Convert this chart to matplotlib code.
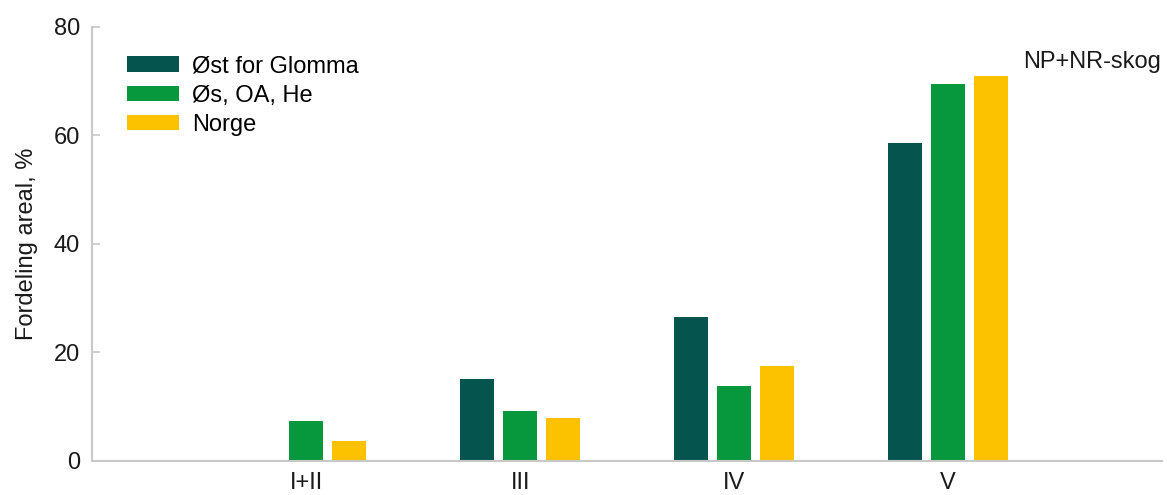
import numpy as np
import matplotlib
matplotlib.use("Agg")
from matplotlib import pyplot as plt

plt.rcParams['font.family'] = ['Liberation Sans', 'DejaVu Sans']

categories = ['I+II', 'III', 'IV', 'V']
series = ['Øst for Glomma', 'Øs, OA, He', 'Norge']
ost_glomma = [0.0, 15.1, 26.5, 58.6]
os_oa_he = [7.4, 9.3, 13.9, 69.4]
norge = [3.7, 7.9, 17.5, 70.9]
colors = ['#05554E', '#07973D', '#FCC200']

fig = plt.figure(figsize=(11.67, 4.95), dpi=100)
ax = fig.add_axes([0.0791, 0.0687, 0.9166, 0.8768])

x = np.arange(len(categories))
width = 0.159
step = 0.201
for i, (vals, name) in enumerate(zip([ost_glomma, os_oa_he, norge], series)):
    ax.bar(x + (i - 1) * step, vals, width, color=colors[i], label=name)

ax.set_xlim(-1, 4)
ax.set_ylim(0, 80)
ax.set_yticks([0, 20, 40, 60, 80])
ax.set_xticks(x)
ax.set_xticklabels(categories)

for s in ['top', 'right']:
    ax.spines[s].set_visible(False)
for s in ['left', 'bottom']:
    ax.spines[s].set_color('#c8c8c8')
    ax.spines[s].set_linewidth(1.5)

fs = 17
ax.tick_params(axis='y', direction='in', length=6, width=1.2, color='#c8c8c8',
               labelsize=fs, pad=9, labelcolor='#1a1a1a')
ax.tick_params(axis='x', length=0, labelsize=fs, pad=8, labelcolor='#1a1a1a')
ax.set_ylabel('Fordeling areal, %', fontsize=fs, labelpad=11, color='#1a1a1a')

ax.legend(loc='upper left', bbox_to_anchor=(127 / 1167, 1 - 55.5 / 495),
          bbox_transform=fig.transFigure, frameon=False, fontsize=fs,
          handlelength=2.2, handleheight=0.63, handletextpad=0.55,
          labelspacing=0.3, borderpad=0, borderaxespad=0)

fig.text(1161 / 1167, 1 - 68.3 / 495, 'NP+NR-skog', ha='right', va='baseline',
         fontsize=fs, color='#1a1a1a')

fig.savefig('out.png', dpi=100)
